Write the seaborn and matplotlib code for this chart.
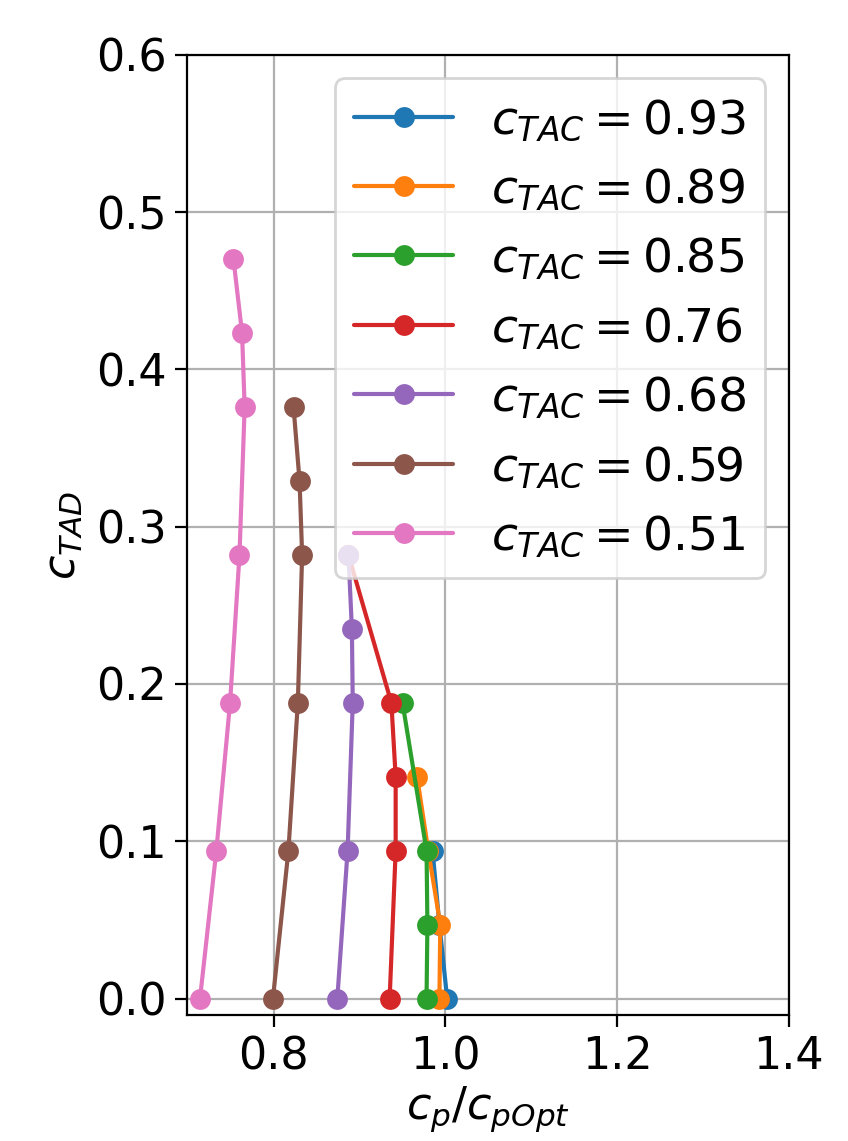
import matplotlib
matplotlib.use("Agg")
import matplotlib.pyplot as plt
import seaborn as sns
import pandas as pd
import numpy as np

# c_TAC values (series)
c_tac = ["0.93", "0.89", "0.85", "0.76", "0.68", "0.59", "0.51"]

# c_p / c_pOpt values per series
x_093 = [1.002, 0.993, 0.985]
x_089 = [0.993, 0.994, 0.980, 0.967]
x_085 = [0.978, 0.979, 0.978, 0.950]
x_076 = [0.935, 0.942, 0.942, 0.937, 0.887]
x_068 = [0.874, 0.886, 0.892, 0.891, 0.887]
x_059 = [0.799, 0.817, 0.828, 0.833, 0.830, 0.823]
x_051 = [0.714, 0.733, 0.749, 0.760, 0.766, 0.763, 0.753]

# c_TAD values per series
y_093 = [0.0, 0.047, 0.094]
y_089 = [0.0, 0.047, 0.094, 0.141]
y_085 = [0.0, 0.047, 0.094, 0.188]
y_076 = [0.0, 0.094, 0.141, 0.188, 0.282]
y_068 = [0.0, 0.094, 0.188, 0.235, 0.282]
y_059 = [0.0, 0.094, 0.188, 0.282, 0.329, 0.376]
y_051 = [0.0, 0.094, 0.188, 0.282, 0.376, 0.423, 0.470]

xs = [x_093, x_089, x_085, x_076, x_068, x_059, x_051]
ys = [y_093, y_089, y_085, y_076, y_068, y_059, y_051]

x_ticks = [0.8, 1.0, 1.2, 1.4]
y_ticks = [0.0, 0.1, 0.2, 0.3, 0.4, 0.5, 0.6]

rows = []
labels = []
for c, xv, yv in zip(c_tac, xs, ys):
    lab = r"$c_{TAC} = " + c + r"$"
    labels.append(lab)
    for i, (a, b) in enumerate(zip(xv, yv)):
        rows.append({"series": lab, "x": a, "y": b, "order": i})
df = pd.DataFrame(rows)

sns.set_style("ticks")
plt.rcParams["font.family"] = ["DejaVu Sans"]
plt.rcParams["mathtext.fontset"] = "dejavusans"
plt.rcParams["text.color"] = "black"
plt.rcParams["axes.labelcolor"] = "black"
plt.rcParams["xtick.color"] = "black"
plt.rcParams["ytick.color"] = "black"

fs = 16
fig = plt.figure(figsize=(8.48 / 2, 11.41 / 2), dpi=200)
ax = fig.add_axes([0.2205, 0.1104, 0.930 - 0.2205, 0.952 - 0.1104])

palette = sns.color_palette("tab10", 7)
sns.lineplot(data=df, x="x", y="y", hue="series", hue_order=labels,
             palette=palette, sort=False, estimator=None, marker="o",
             markersize=7.5, markeredgewidth=0, linewidth=1.5, ax=ax,
             legend=True)

ax.set_xlim(0.6988, 1.4)
ax.set_ylim(-0.0105, 0.6)
ax.set_xticks(x_ticks)
ax.set_yticks(y_ticks)
ax.set_xticklabels([f"{v:.1f}" for v in x_ticks])
ax.set_yticklabels([f"{v:.1f}" for v in y_ticks])
ax.grid(True, color="#b0b0b0", linewidth=0.8)
ax.set_axisbelow(True)
for s in ax.spines.values():
    s.set_visible(True)
    s.set_color("black")
    s.set_linewidth(0.8)
ax.tick_params(axis="both", labelsize=fs, length=4.3, width=0.8,
               color="black", labelcolor="black", pad=3)

ax.set_xlabel(r"$c_p/c_{pOpt}$", fontsize=fs, labelpad=2)
ax.set_ylabel(r"$c_{TAD}$", fontsize=fs, labelpad=4)

handles, labs = ax.get_legend_handles_labels()
ax.legend(handles, labs, loc="upper right", fontsize=17, framealpha=0.8,
          handlelength=2.1)

fig.savefig("out.png", dpi=200)
